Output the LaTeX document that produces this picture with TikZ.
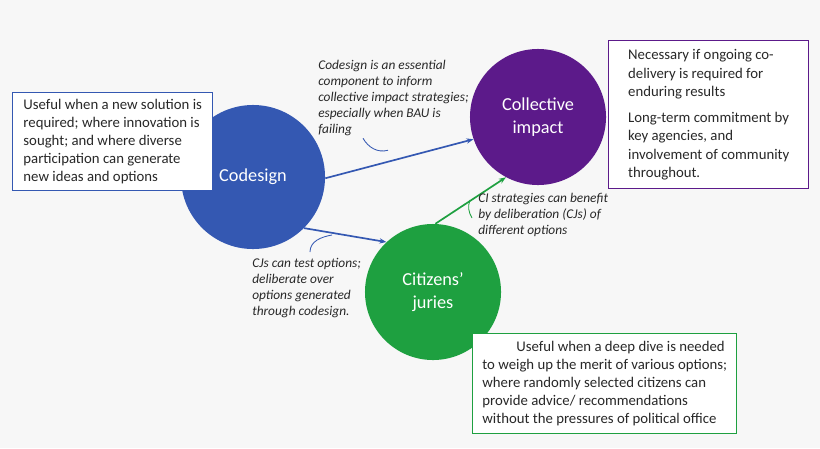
\documentclass[tikz,border=0pt]{standalone}
\usepackage{fontspec}
\setmainfont{Carlito}
\usetikzlibrary{arrows.meta}
\definecolor{cdblue}{RGB}{52,88,178}
\definecolor{cipurple}{RGB}{92,26,138}
\definecolor{cjgreen}{RGB}{30,160,64}
\definecolor{txtgray}{RGB}{40,40,40}
\begin{document}
\begin{tikzpicture}[x=0.025cm,y=-0.025cm,
  hub/.style={circle,text=white,font=\fontsize{13}{16}\selectfont,align=center,inner sep=0pt},
  note/.style={draw,line width=1pt,fill=white,align=left,anchor=north west,font=\fontsize{10.5}{12.9}\selectfont,text=txtgray,inner sep=3pt},
  remark/.style={align=left,anchor=north west,font=\fontsize{9.5}{11.4}\selectfont\itshape,text=txtgray,inner sep=0pt},
  link/.style={line width=1.2pt,-{Stealth[length=5pt]}},
  hook/.style={line width=0.6pt}]
\fill [white!97!black] (0,0) rectangle (820,448);
\useasboundingbox (0,0) rectangle (820,448);
% circles
\node [hub,fill=cdblue,minimum size=3.6cm] (cd) at (253,177) {Codesign};
\node [hub,fill=cipurple,minimum size=3.4cm] (ci) at (538,117) {Collective\\impact};
\node [hub,fill=cjgreen,minimum size=3.4cm] (cj) at (433,292) {Citizens'\\juries};
% boxes
\node [note,draw=cdblue,minimum width=5cm,minimum height=2.45cm] (cdbox) at (12,92) {Useful when a new solution is\\required; where innovation is\\sought; and where diverse\\participation can generate\\new ideas and options};
\node [note,draw=cipurple,minimum width=5cm,minimum height=3.7cm] (cibox) at (608,40) {Necessary if ongoing co-\\delivery is required for\\enduring results\\[6pt]Long-term commitment by\\key agencies, and\\involvement of community\\throughout.};
\node [note,draw=cjgreen,minimum width=6.6cm,minimum height=2.5cm] (cjbox) at (472,333) {\hspace*{2.3em}Useful when a deep dive is needed\\to weigh up the merit of various options;\\where randomly selected citizens can\\provide advice/ recommendations\\without the pressures of political office};
% arrows
\draw [link,cdblue] (cd.-1) -- (ci.199);
\draw [link,cdblue] (cd.-45) -- (cj.133);
\draw [link,cjgreen] (cj.88) -- (ci.-118);
% remarks
\node [remark] (r1) at (318,60) {Codesign is an essential\\component to inform\\collective impact strategies;\\especially when BAU is\\failing};
\node [remark] (r2) at (252,258) {CJs can test options;\\deliberate over\\options generated\\through codesign.};
\node [remark] (r3) at (478,193) {CI strategies can benefit\\by deliberation (CJs) of\\different options};
\draw [hook,cdblue] (r1.south west) ++(45,2) coordinate (h1) to[out=-60,in=195] ++(25,12);
\draw [hook,cdblue] (r2.north west) ++(58,-6) coordinate (h2) to[out=90,in=190] ++(22,-17);
\draw [hook,cjgreen] (r3.north west) ++(-6,25) coordinate (h3) to[out=120,in=-110] ++(-2,-18);
\end{tikzpicture}
\end{document}
